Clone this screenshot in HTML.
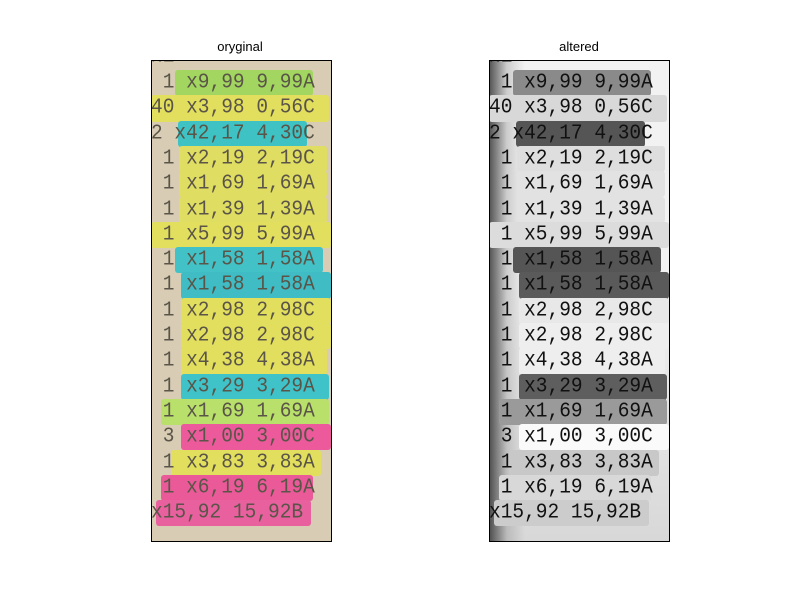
<!DOCTYPE html>
<html><head><meta charset="utf-8"><style>
body{margin:0;background:#fff;width:800px;height:600px;position:relative;overflow:hidden;font-family:"Liberation Sans",sans-serif}
.title{position:absolute;top:39px;font-size:13px;color:#000;transform:translateX(-50%)}
.panel{position:absolute;top:60px;width:180px;height:481px;overflow:hidden;box-sizing:border-box}
.frame{position:absolute;top:60px;width:181px;height:482px;border:1px solid #000;box-sizing:border-box;pointer-events:none}
.band{position:absolute;border-radius:3px}
.line{position:absolute;left:0;white-space:pre;font-family:"Liberation Mono",monospace;font-size:19.5px;line-height:25px;transform:scaleY(1.1);transform-origin:0 50%}
</style></head><body>
<div class="title" style="left:240px">oryginal</div>
<div class="title" style="left:579px">altered</div>
<div class="panel" id="p1" style="left:151px;background:#d8ccb4"></div>
<div class="panel" id="p2" style="left:489px;background:linear-gradient(90deg,rgba(40,40,40,0.8) 0%,rgba(120,120,120,0.3) 10%,rgba(255,255,255,0) 20%),linear-gradient(180deg,#f2f2f2 0%,#f2f2f2 45%,#d8d8d8 100%)"></div>
<div class="frame" style="left:151px"></div>
<div class="frame" style="left:489px"></div>
<script>
const rowTexts=[" 1 x9,99 9,99A","40 x3,98 0,56C","2 x42,17 4,30C"," 1 x2,19 2,19C"," 1 x1,69 1,69A"," 1 x1,39 1,39A"," 1 x5,99 5,99A"," 1 x1,58 1,58A"," 1 x1,58 1,58A"," 1 x2,98 2,98C"," 1 x2,98 2,98C"," 1 x4,38 4,38A"," 1 x3,29 3,29A"," 1 x1,69 1,69A"," 3 x1,00 3,00C"," 1 x3,83 3,83A"," 1 x6,19 6,19A","x15,92 15,92B"];
const bandColors=["#a2d660","#e2df5e","#3fc2c4","#e0de62","#e0de62","#e0de62","#e2df5e","#42c2c6","#3fbcc4","#e2df5e","#e2df5e","#e2df5e","#3fc3c8","#b8e06a","#ec5a9c","#e2df5e","#ea5a98","#e8609e"];
const bandGrays=["#8a8a8a","#d8d8d8","#555555","#dedede","#e2e2e2","#e2e2e2","#dcdcdc","#555555","#5a5a5a","#e8e8e8","#eeeeee","#eeeeee","#5e5e5e","#9a9a9a","#fafafa","#c8c8c8","#d8d8d8","#cccccc"];
const bandStart=[24,0,27,28,28,28,0,24,30,30,30,30,30,10,30,20,10,5];
const bandEnd=[162,178,156,176,176,176,180,172,180,180,180,176,178,178,180,170,162,160];
const top0=10, rowH=25.3;
function build(id,colors,textColor,prefix){
  const p=document.getElementById(id);
  const n=document.createElement('div');
  n.className='line';n.style.top='-16px';n.style.color=textColor;n.textContent='N1';
  
  
  p.appendChild(n);
  rowTexts.forEach((t,i)=>{
    const b=document.createElement('div');
    b.className='band';
    b.style.left=bandStart[i]+'px';b.style.width=(bandEnd[i]-bandStart[i])+'px';
    b.style.top=(top0+i*rowH)+'px';b.style.height=(rowH+1)+'px';b.style.background=colors[i];
    
    
    p.appendChild(b);
  });
  rowTexts.forEach((t,i)=>{
    const l=document.createElement('div');
    l.className='line';l.style.top=(top0+i*rowH)+'px';l.style.color=textColor;l.textContent=t;
    
    
    p.appendChild(l);
  });
}
build('p1',bandColors,'#5a5548','original');
build('p2',bandGrays,'#111','altered');
</script>
</body></html>
